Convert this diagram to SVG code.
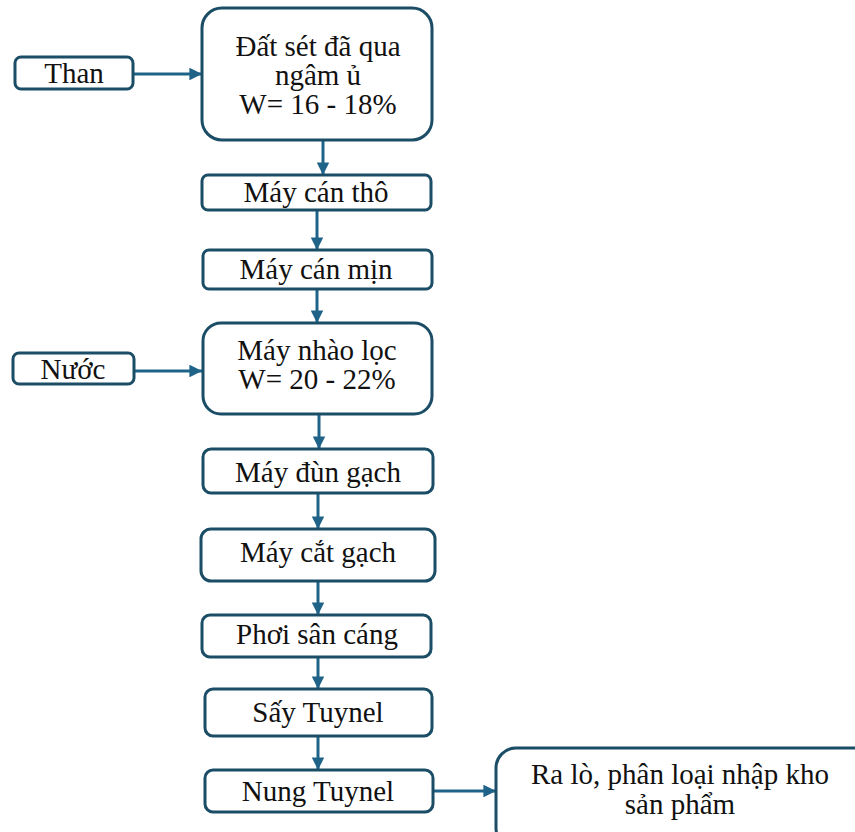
<svg xmlns="http://www.w3.org/2000/svg" width="855" height="832" viewBox="0 0 855 832">
  <style>
    .box { fill: #ffffff; stroke: #1b4d66; stroke-width: 3; }
    .lbl { font-family: "Liberation Serif", "Times New Roman", serif; font-size: 29px; fill: #111111; text-anchor: middle; }
    .conn { stroke: #1f6488; stroke-width: 3; fill: none; marker-end: url(#arrow); }
  </style>
  <defs>
    <marker id="arrow" viewBox="0 0 10 10" refX="10" refY="5" markerWidth="4.2" markerHeight="4.2" orient="auto" markerUnits="strokeWidth">
      <path d="M0,0 L10,5 L0,10 z" fill="#1f6488"/>
    </marker>
  </defs>
  <rect width="855" height="832" fill="#ffffff"/>

  <g id="connectors">
    <line class="conn" x1="134" y1="74" x2="202" y2="74"/>
    <line class="conn" x1="323" y1="141" x2="323" y2="175"/>
    <line class="conn" x1="317" y1="211" x2="317" y2="250"/>
    <line class="conn" x1="317" y1="290" x2="317" y2="323"/>
    <line class="conn" x1="135" y1="371" x2="202" y2="371"/>
    <line class="conn" x1="319" y1="415" x2="319" y2="449"/>
    <line class="conn" x1="318" y1="494" x2="318" y2="529"/>
    <line class="conn" x1="318" y1="582" x2="318" y2="615"/>
    <line class="conn" x1="318" y1="658" x2="318" y2="689"/>
    <line class="conn" x1="318" y1="737" x2="318" y2="770"/>
    <line class="conn" x1="434" y1="791" x2="496" y2="791"/>
  </g>

  <g id="than">
    <rect class="box" x="15" y="57" width="118" height="32" rx="6"/>
    <text class="lbl" x="74" y="83">Than</text>
  </g>
  <g id="dat-set">
    <rect class="box" x="202" y="8" width="230" height="132" rx="20"/>
    <text class="lbl" x="318" y="56">Đất sét đã qua</text>
    <text class="lbl" x="318" y="85">ngâm ủ</text>
    <text class="lbl" x="318" y="114">W= 16 - 18%</text>
  </g>
  <g id="may-can-tho">
    <rect class="box" x="202" y="175" width="229" height="35" rx="6"/>
    <text class="lbl" x="316" y="202">Máy cán thô</text>
  </g>
  <g id="may-can-min">
    <rect class="box" x="203" y="250" width="229" height="39" rx="6"/>
    <text class="lbl" x="316" y="279">Máy cán mịn</text>
  </g>
  <g id="nuoc">
    <rect class="box" x="13" y="353" width="121" height="31" rx="6"/>
    <text class="lbl" x="73" y="379">Nước</text>
  </g>
  <g id="may-nhao-loc">
    <rect class="box" x="203" y="323" width="229" height="91" rx="18"/>
    <text class="lbl" x="317" y="360">Máy nhào lọc</text>
    <text class="lbl" x="317" y="389">W= 20 - 22%</text>
  </g>
  <g id="may-dun-gach">
    <rect class="box" x="203" y="449" width="230" height="44" rx="8"/>
    <text class="lbl" x="318" y="482">Máy đùn gạch</text>
  </g>
  <g id="may-cat-gach">
    <rect class="box" x="201" y="529" width="234" height="52" rx="10"/>
    <text class="lbl" x="318" y="562">Máy cắt gạch</text>
  </g>
  <g id="phoi-san-cang">
    <rect class="box" x="202" y="615" width="229" height="42" rx="8"/>
    <text class="lbl" x="317" y="644">Phơi sân cáng</text>
  </g>
  <g id="say-tuynel">
    <rect class="box" x="205" y="689" width="227" height="47" rx="8"/>
    <text class="lbl" x="318" y="722">Sấy Tuynel</text>
  </g>
  <g id="nung-tuynel">
    <rect class="box" x="205" y="770" width="228" height="42" rx="8"/>
    <text class="lbl" x="318" y="801">Nung Tuynel</text>
  </g>
  <g id="ra-lo">
    <rect class="box" x="496" y="748" width="380" height="100" rx="20"/>
    <text class="lbl" x="680" y="784">Ra lò, phân loại nhập kho</text>
    <text class="lbl" x="680" y="814">sản phẩm</text>
  </g>
</svg>
